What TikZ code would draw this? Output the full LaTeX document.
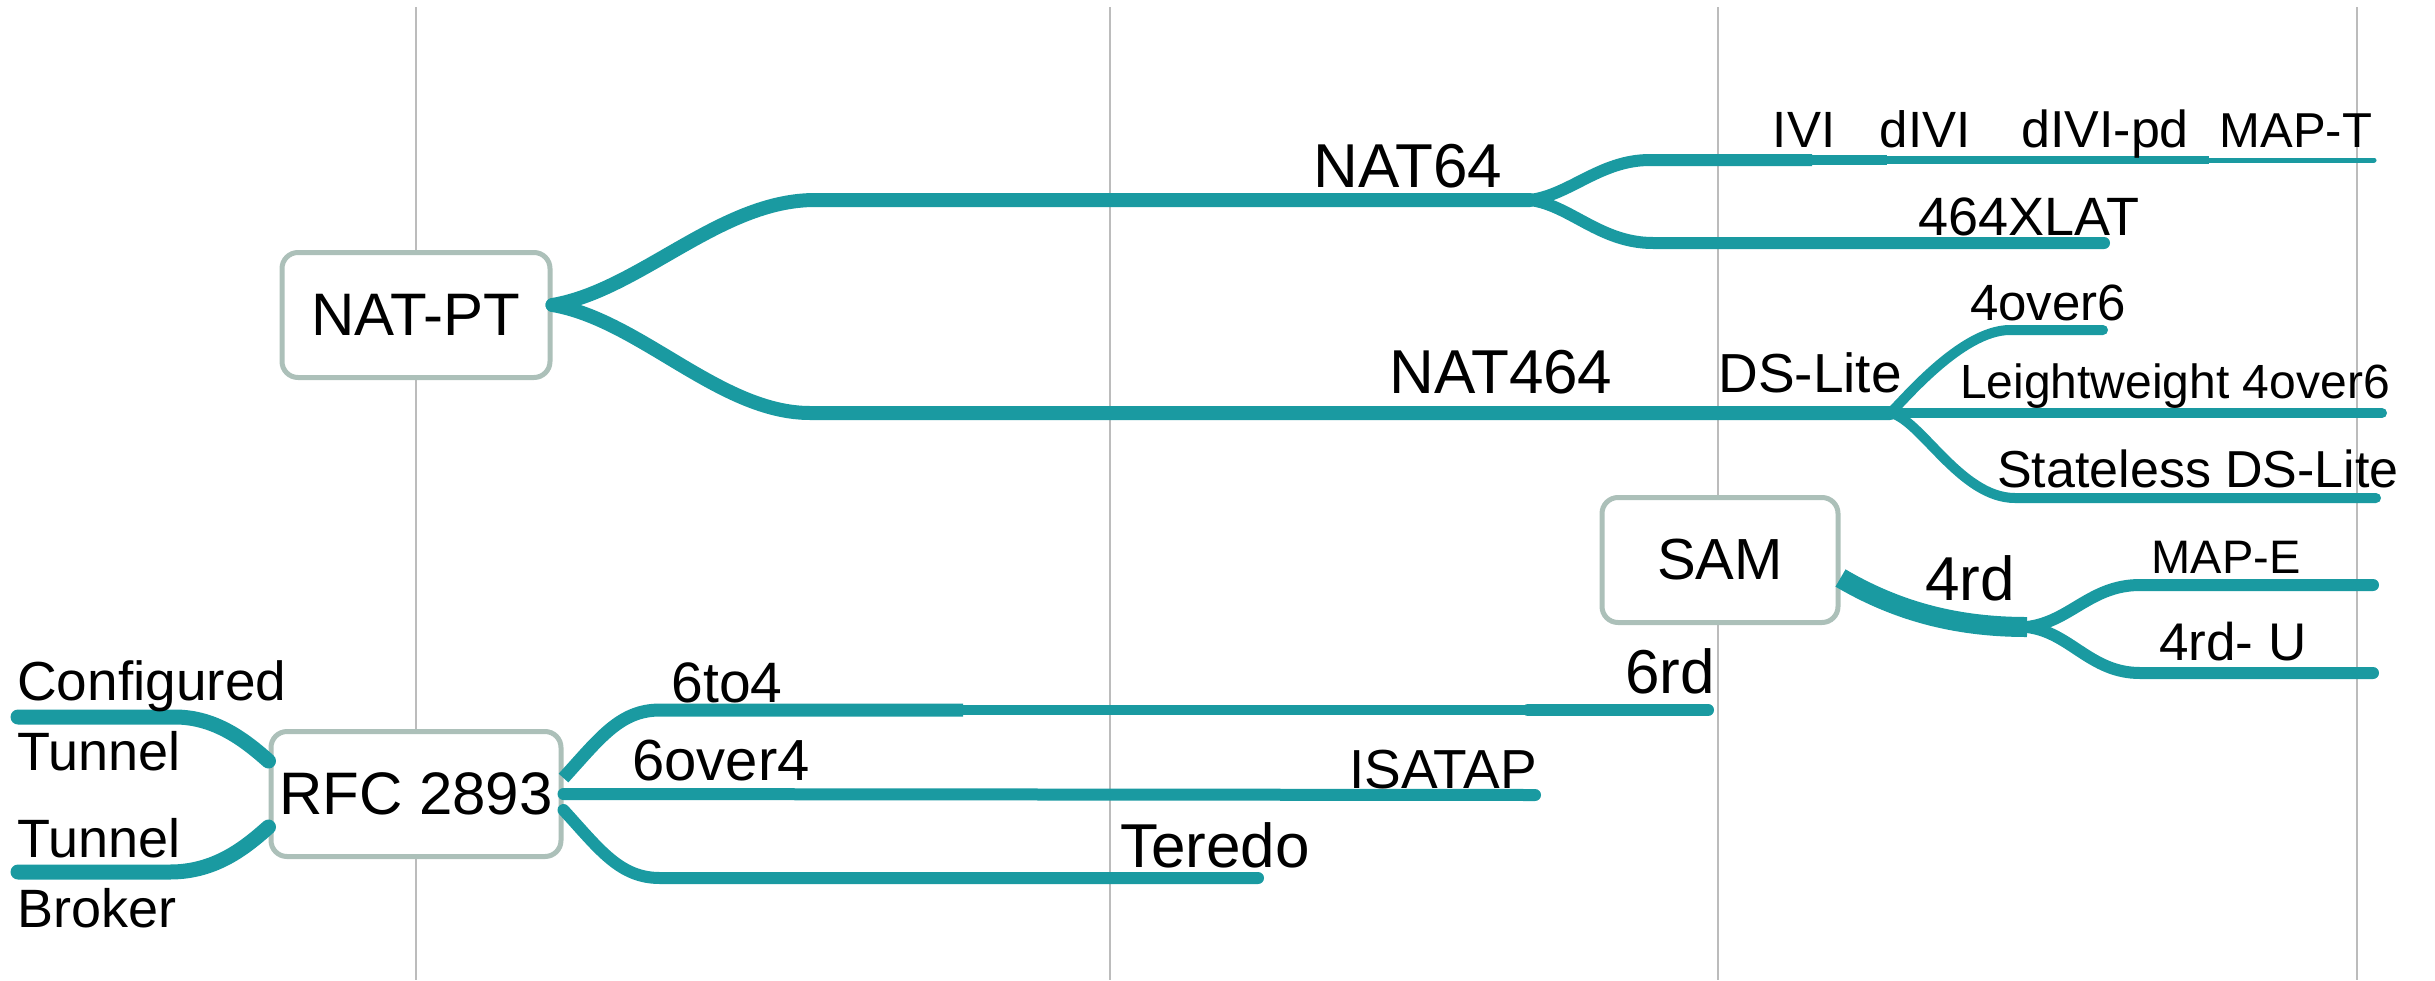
\documentclass[tikz,border=0pt]{standalone}
\usepackage{fontspec}
\setmainfont{Liberation Sans}
\usetikzlibrary{calc}
\definecolor{tealline}{RGB}{26,154,161}
\definecolor{boxgray}{RGB}{172,192,185}
\definecolor{vgray}{RGB}{188,188,188}
\newcommand{\fsz}[1]{\fontsize{#1}{#1}\selectfont}
\begin{document}
\begin{tikzpicture}[x=1pt,y=-1pt,
  branch/.style={draw=tealline, line cap=round, line join=round},
  seg/.style={draw=tealline, line cap=butt},
  box/.style={draw=boxgray, line width=5pt, rounded corners=16pt, fill=white, inner sep=0pt, text=black},
  lbl/.style={inner sep=0pt, anchor=base, text=black},
  lblw/.style={inner sep=0pt, anchor=base west, text=black},
  vline/.style={draw=vgray, line width=2.5pt}]
\useasboundingbox (0,0) rectangle (2435,980);

% vertical guide lines
\coordinate (v1t) at (416,7);  \coordinate (v1b) at (416,980);
\coordinate (v2t) at (1110,7); \coordinate (v2b) at (1110,980);
\coordinate (v3t) at (1718,7); \coordinate (v3b) at (1718,980);
\coordinate (v4t) at (2357,7); \coordinate (v4b) at (2357,980);
\draw[vline] (v1t) -- (v1b);
\draw[vline] (v2t) -- (v2b);
\draw[vline] (v3t) -- (v3b);
\draw[vline] (v4t) -- (v4b);

% boxes
\node[box, minimum width=268pt, minimum height=125pt, font=\fsz{60}] (natpt) at (416,315) {NAT-PT};
\node[box, minimum width=290pt, minimum height=125pt, font=\fsz{60}] (rfc) at (416,794) {RFC 2893};
\node[box, minimum width=236pt, minimum height=125pt, font=\fsz{58}] (sam) at (1720,560) {SAM};

% junctions and ends
\coordinate (j64) at (1530,200);
\coordinate (jds) at (1890,413);
\coordinate (j4rd) at (2027,627);
\coordinate (t1) at (1812,160);
\coordinate (t2) at (1887,160);
\coordinate (t3) at (2209,160);
\coordinate (t4) at (2374,160);
\coordinate (exlat) at (2104,243);
\coordinate (e4o6) at (2103,330);
\coordinate (elw) at (2382,413);
\coordinate (esds) at (2376,498);
\coordinate (emape) at (2373,585);
\coordinate (e4rdu) at (2373,673);
\coordinate (cfg) at (18,717);
\coordinate (tbk) at (18,872);
\coordinate (s1) at (963,710);
\coordinate (s2) at (1528,710);
\coordinate (e6rd) at (1708,710);
\coordinate (eisa) at (1535,795);
\coordinate (eter) at (1258,878);

% NAT-PT branches
\draw[branch, line width=14pt] ([yshift=10pt]natpt.east) .. controls (640,290) and (720,200) .. (815,200) -- (j64);
\draw[branch, line width=14pt] ([yshift=10pt]natpt.east) .. controls (640,320) and (720,413) .. (810,413) -- (jds);

% NAT64 branches
\draw[seg, line width=12pt] (j64) .. controls (1570,195) and (1600,160) .. (1650,160) -- (t1);
\draw[seg, line width=10pt] (t1) -- (t2);
\draw[seg, line width=8pt] (t2) -- (t3);
\draw[branch, line width=5pt] (t3) -- (t4);
\draw[branch, line width=12pt] (j64) .. controls (1570,205) and (1600,243) .. (1653,243) -- (exlat);

% DS-Lite branches
\draw[branch, line width=10pt] (jds) .. controls (1900,405) and (1960,330) .. (2010,330) -- (e4o6);
\draw[branch, line width=10pt] (jds) -- (elw);
\draw[branch, line width=10pt] (jds) .. controls (1920,418) and (1960,498) .. (2015,498) -- (esds);

% SAM / 4rd
\draw[branch, line width=20pt, line cap=butt] ([yshift=-18pt]sam.east) .. controls (1900,613) and (1960,627) .. (j4rd);
\draw[branch, line width=12pt] (j4rd) .. controls (2070,622) and (2090,585) .. (2140,585) -- (emape);
\draw[branch, line width=12pt] (j4rd) .. controls (2070,632) and (2090,673) .. (2140,673) -- (e4rdu);

% RFC 2893 inputs
\draw[branch, line width=15pt] (cfg) -- (175,717) .. controls (215,717) and (245,740) .. ([yshift=33pt]rfc.west);
\draw[branch, line width=15pt] (tbk) -- (170,872) .. controls (215,872) and (245,848) .. ([yshift=-33pt]rfc.west);

% RFC 2893 outputs
\draw[seg, line width=13pt] ([yshift=16pt]rfc.east) .. controls (600,738) and (620,710) .. (660,710) -- (s1);
\draw[seg, line width=10pt] (s1) -- (s2);
\draw[branch, line width=12pt] (s2) -- (e6rd);
\draw[branch, line width=12pt] (rfc.east) -- (eisa);
\draw[branch, line width=12pt] ([yshift=-16pt]rfc.east) .. controls (600,850) and (620,878) .. (660,878) -- (eter);

% labels
\node[lbl, font=\fsz{62}] (nat64) at (1408,187) {NAT64};
\node[lbl, font=\fsz{62}] (nat464) at (1501,393) {NAT464};
\node[lbl, font=\fsz{55}] (dslite) at (1810,392) {DS-Lite};
\node[lbl, font=\fsz{51}] (ivi) at (1804,147) {IVI};
\node[lbl, font=\fsz{51}] (divi) at (1925,147) {dIVI};
\node[lbl, font=\fsz{52}] (divipd) at (2105,147) {dIVI-pd};
\node[lbl, font=\fsz{49}] (mapt) at (2296,147) {MAP-T};
\node[lbl, font=\fsz{54}] (xlat) at (2029,235) {464XLAT};
\node[lbl, font=\fsz{51}] (fourover6) at (2048,320) {4over6};
\node[lbl, font=\fsz{48}] (lw) at (2175,398) {Leightweight 4over6};
\node[lbl, font=\fsz{52}] (sds) at (2198,487) {Stateless DS-Lite};
\node[lbl, font=\fsz{47}] (mape) at (2226,573) {MAP-E};
\node[lbl, font=\fsz{53}] (frdu) at (2233,660) {4rd- U};
\node[lbl, font=\fsz{62}] (frd) at (1970,600) {4rd};
\node[lbl, font=\fsz{62}] (sixrd) at (1670,693) {6rd};
\node[lbl, font=\fsz{55}] (isatap) at (1443,788) {ISATAP};
\node[lbl, font=\fsz{62}] (teredo) at (1215,867) {Teredo};
\node[lbl, font=\fsz{57}] (sixto4) at (727,702) {6to4};
\node[lbl, font=\fsz{58}] (sixover4) at (721,780) {6over4};
\node[lblw, font=\fsz{55}] (conf) at (17,700) {Configured};
\node[lblw, font=\fsz{54}] (tun1) at (17,770) {Tunnel};
\node[lblw, font=\fsz{54}] (tun2) at (17,857) {Tunnel};
\node[lblw, font=\fsz{54}] (brk) at (17,927) {Broker};
\end{tikzpicture}
\end{document}
